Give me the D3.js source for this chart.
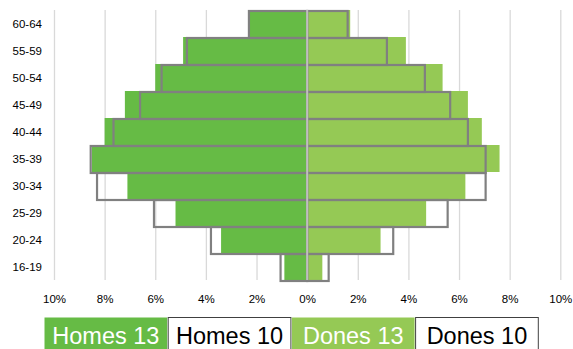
<!DOCTYPE html>
<html>
<head>
<meta charset="utf-8">
<script src="https://cdn.jsdelivr.net/npm/d3@7"></script>
<style>
  body { margin: 0; background: #fff; }
  svg { display: block; font-family: Arial, "Liberation Sans", sans-serif; }
</style>
</head>
<body>
<div class="chart"></div>
<script>
// age groups, top to bottom
let ages = ["60-64", "55-59", "50-54", "45-49", "40-44", "35-39", "30-34", "25-29", "20-24", "16-19"];
// percentages
let homes13 = [2.3, 4.9, 6.0, 7.2, 8.0, 8.5, 7.1, 5.2, 3.4, 0.9];
let homes10 = [2.3, 4.75, 5.75, 6.6, 7.65, 8.55, 8.3, 6.05, 3.8, 1.05];
let dones13 = [1.7, 3.9, 5.35, 6.35, 6.9, 7.6, 6.25, 4.7, 2.9, 0.6];
let dones10 = [1.6, 3.15, 4.65, 5.65, 6.35, 7.05, 7.05, 5.55, 3.4, 0.85];
let ticks = [-10, -8, -6, -4, -2, 0, 2, 4, 6, 8, 10];
let legendNames = ["Homes 13", "Homes 10", "Dones 13", "Dones 10"];

let w = 573, h = 349;
let darkGreen = "#66bb45", lightGreen = "#95c955", outline = "#808080";

let svg = d3.select(".chart").append("svg")
    .attr("width", w)
    .attr("height", h);

let x = d3.scaleLinear().domain([-10, 10]).range([54, 560.3]);
let y = d3.scaleBand().domain(ages).range([10, 280]).padding(0);

// grid lines
svg.append("g")
    .attr("transform", "translate(0,280)")
    .call(d3.axisBottom(x).tickValues(ticks).tickSize(-270).tickFormat(""))
    .call(g => g.select(".domain").remove())
    .call(g => g.selectAll("line").attr("stroke", "#d9d9d9").attr("stroke-width", 1.3));

// tick labels
svg.append("g")
    .attr("transform", "translate(0,292)")
    .call(d3.axisBottom(x).tickValues(ticks).tickSize(0).tickFormat(d => Math.abs(d) + "%"))
    .call(g => g.select(".domain").remove())
    .call(g => g.selectAll("text")
        .attr("fill", "#000")
        .attr("font-size", "11.5px")
        .attr("font-family", "Arial, 'Liberation Sans', sans-serif"));

// category labels
svg.append("g").selectAll("text")
    .data(ages)
    .enter().append("text")
    .attr("x", 42)
    .attr("y", d => y(d) + y.bandwidth() / 2 + 4)
    .attr("text-anchor", "end")
    .attr("font-size", "11.5px")
    .attr("fill", "#000")
    .text(d => d);

// filled bars (2013)
svg.append("g").selectAll("rect")
    .data(homes13)
    .enter().append("rect")
    .attr("x", d => x(-d))
    .attr("y", (d, i) => y(ages[i]))
    .attr("width", d => x(0) - x(-d))
    .attr("height", y.bandwidth())
    .attr("fill", darkGreen);

svg.append("g").selectAll("rect")
    .data(dones13)
    .enter().append("rect")
    .attr("x", x(0))
    .attr("y", (d, i) => y(ages[i]))
    .attr("width", d => x(d) - x(0))
    .attr("height", y.bandwidth())
    .attr("fill", lightGreen);

// outline bars (2010)
svg.append("g").selectAll("rect")
    .data(homes10)
    .enter().append("rect")
    .attr("x", d => x(-d))
    .attr("y", (d, i) => y(ages[i]) + 1)
    .attr("width", d => x(0) - x(-d))
    .attr("height", y.bandwidth())
    .attr("fill", "none")
    .attr("stroke", outline)
    .attr("stroke-width", 2.2);

svg.append("g").selectAll("rect")
    .data(dones10)
    .enter().append("rect")
    .attr("x", x(0))
    .attr("y", (d, i) => y(ages[i]) + 1)
    .attr("width", d => x(d) - x(0))
    .attr("height", y.bandwidth())
    .attr("fill", "none")
    .attr("stroke", outline)
    .attr("stroke-width", 2.2);

// center line
svg.append("line")
    .attr("x1", x(0)).attr("x2", x(0))
    .attr("y1", 10).attr("y2", 280)
    .attr("stroke", "#bfbfbf")
    .attr("stroke-width", 2);

// legend
let legendX = 44, boxW = 123.7;
let legendFill = [darkGreen, "#fff", lightGreen, "#fff"];
let legendText = ["#fff", "#000", "#fff", "#000"];

let lg = svg.append("g").selectAll("g")
    .data(legendNames)
    .enter().append("g")
    .attr("transform", (d, i) => "translate(" + (legendX + i * boxW) + ",317)");

lg.append("rect")
    .attr("x", 0.5).attr("y", 0.5)
    .attr("width", boxW - 1)
    .attr("height", 40)
    .attr("fill", (d, i) => legendFill[i])
    .attr("stroke", (d, i) => i % 2 ? "#404040" : "none")
    .attr("stroke-width", 1);

lg.append("text")
    .attr("x", boxW / 2)
    .attr("y", 27)
    .attr("text-anchor", "middle")
    .attr("font-size", "23.5px")
    .attr("fill", (d, i) => legendText[i])
    .text(d => d);
</script>
</body>
</html>
